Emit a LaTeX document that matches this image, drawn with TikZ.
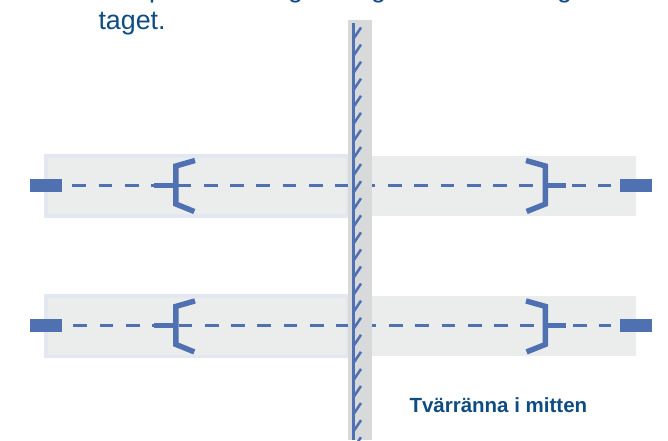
\documentclass[tikz,border=0pt]{standalone}
\usepackage{fontspec}
\setmainfont{Liberation Sans}
\definecolor{barblue}{HTML}{4F70B1}
\definecolor{bandfill}{HTML}{EBEDED}
\definecolor{bandedge}{HTML}{E2E7F1}
\definecolor{polegray}{HTML}{D8D9DB}
\definecolor{textblue}{HTML}{0F4C81}
\tikzset{
  leftband/.style={fill=bandfill,draw=bandedge,line width=3.6pt},
  rightband/.style={fill=bandfill},
  endbar/.style={fill=barblue},
  dashline/.style={draw=barblue,line width=2.8pt,dash pattern=on 13.7pt off 12.6pt},
  bracket/.style={draw=barblue,line width=5.4pt,miter limit=10},
  stem/.style={draw=barblue,line width=5.4pt},
  bodytext/.style={text=textblue,font=\fontsize{26.8pt}{31pt}\selectfont,inner sep=0pt,anchor=base west},
  boldlabel/.style={text=textblue,font=\fontsize{20.5pt}{24pt}\selectfont\bfseries,inner sep=0pt,anchor=base west},
  poleline/.style={draw=barblue,line width=3.5pt},
  polebarb/.style={draw=barblue,line width=2.5pt}
}
\begin{document}
\begin{tikzpicture}[x=1pt,y=-1pt]
\clip (0,0) rectangle (668,440);
\fill[white] (0,0) rectangle (668,440);
% cropped first text line: only the descenders show
\node[bodytext] (frag1) at (149,-2.5) {p};
\node[bodytext] (frag2) at (288,-2.5) {g};
\node[bodytext] (frag3) at (371,-2.5) {g};
\node[bodytext] (frag4) at (557,-2.5) {g};
\node[bodytext] (taget) at (98.3,29.3) {taget.};
% rows
\foreach \yy/\dx/\nm in {0/72.3/a,140.4/73.3/b}{
  \begin{scope}[yshift=-\yy pt]
    \draw[leftband] (45.8,155.8) rectangle (348,216);
    \fill[rightband] (372,156) rectangle (636,216);
    \coordinate (ds\nm) at (\dx,185.3);
    \coordinate (de\nm) at (611,185.3);
    \draw[dashline] (ds\nm) -- (de\nm);
    \fill[endbar] (29.6,179) rectangle (61.7,192);
    \fill[endbar] (620,179) rectangle (652,192);
    % left bracket
    \draw[bracket] (195,160.5) -- (175.8,166) -- (175.8,204) -- (194.3,211.5);
    \draw[stem] (154,185.3) -- (175.8,185.3);
    % right bracket
    \draw[bracket] (526,160.5) -- (545.4,166) -- (545.4,204) -- (526.6,211.5);
    \draw[stem] (545.4,185.3) -- (566,185.3);
  \end{scope}
}
% pole
\fill[polegray] (348,20) rectangle (372,440);
\draw[poleline] (353.4,23) -- (353.4,440);
\foreach \k in {0,...,24}{
  \draw[polebarb] (354,{38+17.07*\k}) -- (361,{27.5+17.07*\k});
}
\node[boldlabel] (caption) at (409.3,412.7) {Tvärränna i mitten};
\end{tikzpicture}
\end{document}
